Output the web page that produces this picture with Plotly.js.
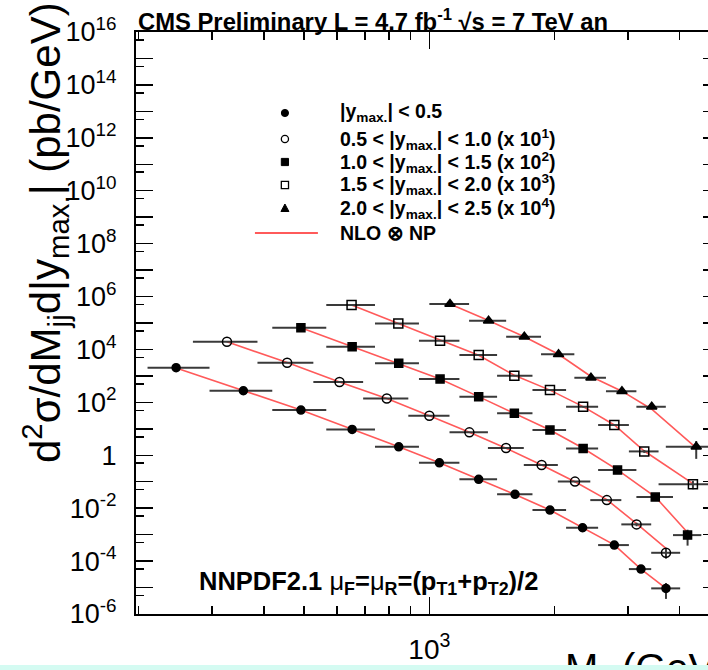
<!DOCTYPE html>
<html><head><meta charset="utf-8">
<script src="https://cdn.plot.ly/plotly-3.0.1.min.js"></script>
<style>
html,body{margin:0;padding:0;overflow:hidden;background:#d4fbf2;width:708px;height:670px;}
#plot{width:740px;height:665px;background:#fff;}
</style></head><body><div id="plot"></div>
<script>
// ---------- data (bin edges in GeV, mass in GeV, cross sections incl. scale factors) ----------
const bins1 = [210,296,419,565,740,944,1181,1455,1770,2132,2546,3019,3416,4010];
const mass1 = [246,357,491,652,844,1057,1314,1607,1950,2336,2785,3228,3707];
const xsec1 = [2040,275,51.2,9.5,2.09,0.52,0.123,0.0333,0.00847,0.00182,4.03e-4,4.99e-5,9.3e-6];
const nlo1  = [2000,280,52,9.6,2.1,0.52,0.125,0.033,0.0085,0.0018,4.1e-4,5.0e-5,9.3e-6];
const err1  = [0.03,0.03,0.03,0.03,0.03,0.03,0.04,0.04,0.05,0.07,0.1,0.2,0.6];

const bins2 = [270,386,526,693,890,1118,1383,1687,2037,2438,2895,3416,4010];
const mass2 = [326,455,608,790,1000,1248,1529,1862,2240,2672,3150,3707];
const xsec2 = [1.95e4,3140,585,139,31.1,7.35,1.87,0.426,0.101,0.0202,0.00244,2.06e-4];
const nlo2  = [1.95e4,3200,590,140,31,7.4,1.85,0.43,0.10,0.021,0.0026,3.0e-4];
const err2  = [0.03,0.03,0.03,0.03,0.03,0.03,0.04,0.05,0.06,0.08,0.15,0.4];

const bins3 = [419,565,740,944,1181,1455,1770,2132,2546,3147,3854,4509];
const mass3 = [491,652,844,1061,1314,1601,1950,2343,2835,3494,4178];
const xsec3 = [6.62e4,1.26e4,2980,760,163,38.4,8.97,1.82,0.275,0.0263,9.6e-4];
const nlo3  = [6.6e4,1.28e4,3000,760,165,38,9.0,1.85,0.28,0.027,1.2e-3];
const err3  = [0.03,0.03,0.03,0.03,0.03,0.04,0.05,0.06,0.08,0.15,0.6];

const bins4 = [565,740,944,1181,1455,1770,2132,2546,3019,3558,5058];
const mass4 = [650,842,1061,1314,1601,1950,2343,2785,3287,4304];
const xsec4 = [4.77e5,9.53e4,2.13e4,6140,1010,292,68.2,13.9,1.40,0.080];
const nlo4  = [4.8e5,9.5e4,2.15e4,6000,1050,290,69,14,1.45,0.085];
const err4  = [0.03,0.03,0.03,0.04,0.04,0.05,0.06,0.08,0.12,0.35];

const bins5 = [1000,1246,1530,1856,2232,2659,3147,3704,5058];
const mass5 = [1121,1388,1692,2045,2447,2905,3426,4383];
const xsec5 = [5.2e5,1.22e5,3.02e4,6530,851,263,68.2,2.09];
const nlo5  = [5.2e5,1.25e5,3.0e4,6600,950,265,55,1.9];
const err5  = [0.04,0.04,0.05,0.06,0.08,0.1,0.15,0.65];

const legendLabels = [
  "|y<sub>max.</sub>| < 0.5",
  "0.5 < |y<sub>max.</sub>| < 1.0 (x 10<sup>1</sup>)",
  "1.0 < |y<sub>max.</sub>| < 1.5 (x 10<sup>2</sup>)",
  "1.5 < |y<sub>max.</sub>| < 2.0 (x 10<sup>3</sup>)",
  "2.0 < |y<sub>max.</sub>| < 2.5 (x 10<sup>4</sup>)",
  "NLO ⊗ NP"
];
const xMinorTicks = [200,300,400,500,600,700,800,900,2000,3000,4000,5000];
const xMajorTicks = [1000];
const xTickText = ["10<sup>3</sup>"];

// ---------- build ----------
const FONT = "Liberation Sans, Arial, Helvetica, sans-serif";
const series = [
  {b:bins1,m:mass1,y:xsec1,t:nlo1,e:err1,sym:'circle',size:8},
  {b:bins2,m:mass2,y:xsec2,t:nlo2,e:err2,sym:'circle-open',size:9},
  {b:bins3,m:mass3,y:xsec3,t:nlo3,e:err3,sym:'square',size:8},
  {b:bins4,m:mass4,y:xsec4,t:nlo4,e:err4,sym:'square-open',size:9},
  {b:bins5,m:mass5,y:xsec5,t:nlo5,e:err5,sym:'triangle-up',size:9}
];
const traces = [];
series.forEach(s=>{
  traces.push({x:s.m,y:s.t,mode:'lines',type:'scatter',line:{color:'#ff5a5a',width:1.6},hoverinfo:'skip',showlegend:false});
});
series.forEach(s=>{
  traces.push({
    x:s.m,y:s.y,mode:'markers',type:'scatter',showlegend:false,
    marker:{symbol:s.sym,size:s.size,color:'black',line:{color:'black',width:1.5}},
    error_x:{type:'data',symmetric:false,array:s.m.map((v,i)=>s.b[i+1]-v),arrayminus:s.m.map((v,i)=>v-s.b[i]),color:'#3a3a3a',thickness:2,width:0},
    error_y:{type:'data',symmetric:true,array:s.y.map((v,i)=>v*s.e[i]),color:'#3a3a3a',thickness:2,width:0}
  });
});

const yTickVals=[], yTickText=[], yMinor=[];
for(let n=-6;n<=16;n++){
  yTickVals.push(Math.pow(10,n));
  yTickText.push(n%2!==0 ? '' : (n===0 ? '1' : '10<sup>'+n+'</sup>'));
  if(n<16) yMinor.push(5*Math.pow(10,n));
}

// pixel -> paper helpers (plot area: x 136..720.3, y 32..614)
const L=136, T=32, W=584.3, H=582;
const px=v=>(v-L)/W, py=v=>(T+H-v)/H;

const shapes=[], annotations=[];
const rowsY=[113,139,162,185,208];
const mx=285, r=3.6;
// legend samples
shapes.push({type:'circle',xref:'paper',yref:'paper',xsizemode:'pixel',ysizemode:'pixel',xanchor:px(mx),yanchor:py(rowsY[0]),x0:-r,x1:r,y0:-r,y1:r,fillcolor:'black',line:{color:'black',width:1}});
shapes.push({type:'circle',xref:'paper',yref:'paper',xsizemode:'pixel',ysizemode:'pixel',xanchor:px(mx),yanchor:py(rowsY[1]),x0:-r,x1:r,y0:-r,y1:r,fillcolor:'white',line:{color:'black',width:1.3}});
shapes.push({type:'rect',xref:'paper',yref:'paper',xsizemode:'pixel',ysizemode:'pixel',xanchor:px(mx),yanchor:py(rowsY[2]),x0:-r,x1:r,y0:-r,y1:r,fillcolor:'black',line:{color:'black',width:1}});
shapes.push({type:'rect',xref:'paper',yref:'paper',xsizemode:'pixel',ysizemode:'pixel',xanchor:px(mx),yanchor:py(rowsY[3]),x0:-r,x1:r,y0:-r,y1:r,fillcolor:'white',line:{color:'black',width:1.3}});
shapes.push({type:'path',xref:'paper',yref:'paper',xsizemode:'pixel',ysizemode:'pixel',xanchor:px(mx),yanchor:py(rowsY[4]),path:'M -4,-3.5 L 4,-3.5 L 0,4 Z',fillcolor:'black',line:{color:'black',width:1}});
shapes.push({type:'line',xref:'paper',yref:'paper',x0:px(255),x1:px(318),y0:py(233),y1:py(233),line:{color:'#ff5a5a',width:1.8}});

const legY=[113,139,162,185,208,233];
legendLabels.forEach((t,i)=>{
  annotations.push({xref:'paper',yref:'paper',x:px(338),y:py(legY[i]),xanchor:'left',yanchor:'middle',showarrow:false,
    text:'<b>'+t+'</b>',font:{family:FONT,size:19.5,color:'black'}});
});
// top label
annotations.push({xref:'paper',yref:'paper',x:px(136),y:1,xanchor:'left',yanchor:'bottom',yshift:-5,showarrow:false,
  text:'<b>CMS Preliminary L = 4.7 fb<sup>-1</sup> √s = 7 TeV an</b>',font:{family:FONT,size:23.8,color:'black'}});
// PDF label
annotations.push({xref:'paper',yref:'paper',x:px(197),y:py(583),xanchor:'left',yanchor:'middle',showarrow:false,
  text:'<b>NNPDF2.1 </b>μ<sub><b>F</b></sub><b>=</b>μ<sub><b>R</b></sub><b>=(p<sub>T1</sub>+p<sub>T2</sub>)/2</b>',font:{family:FONT,size:25.5,color:'black'}});
// y title
annotations.push({xref:'paper',yref:'paper',x:px(44),y:py(233),xanchor:'center',yanchor:'middle',textangle:-90,showarrow:false,
  text:'d<sup>2</sup>σ/dM<sub>jj</sub>d|y<sub>max.</sub>| (pb/GeV)',font:{family:FONT,size:42,color:'black'}});
// x title (cut off by the picture)
annotations.push({xref:'paper',yref:'paper',x:px(563),y:py(644),xanchor:'left',yanchor:'top',showarrow:false,
  text:'M<sub>jj</sub> (GeV)',font:{family:FONT,size:40,color:'black'}});

const layout = {
  width:740,height:665,
  margin:{l:L,r:740-L-W,t:T,b:665-T-H,autoexpand:false},
  paper_bgcolor:'white',plot_bgcolor:'white',
  showlegend:false,
  font:{family:FONT,color:'black'},
  xaxis:{type:'log',range:[Math.log10(197),Math.log10(5000)],showline:true,linecolor:'black',linewidth:2,mirror:'allticks',
    ticks:'inside',ticklen:17,tickwidth:1.5,tickcolor:'black',tickmode:'array',tickvals:xMajorTicks,ticktext:xTickText,
    tickfont:{family:FONT,size:28,color:'black'},ticklabelstandoff:9,showgrid:false,zeroline:false,
    minor:{tickmode:'array',tickvals:xMinorTicks,ticks:'inside',ticklen:8,tickwidth:1.5,tickcolor:'black',showgrid:false}},
  yaxis:{type:'log',range:[-6,16],showline:true,linecolor:'black',linewidth:2,mirror:'allticks',
    ticks:'inside',ticklen:17,tickwidth:1.5,tickcolor:'black',tickmode:'array',tickvals:yTickVals,ticktext:yTickText,
    tickfont:{family:FONT,size:27,color:'black'},ticklabelstandoff:12,showgrid:false,zeroline:false,
    minor:{tickmode:'array',tickvals:yMinor,ticks:'inside',ticklen:8,tickwidth:1.5,tickcolor:'black',showgrid:false}},
  shapes:shapes,annotations:annotations
};
Plotly.newPlot('plot',traces,layout,{staticPlot:true,displayModeBar:false});
</script></body></html>
